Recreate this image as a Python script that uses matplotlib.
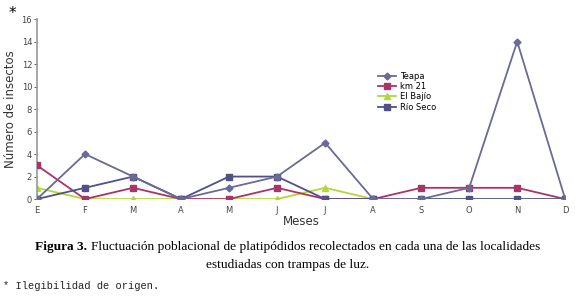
import matplotlib.pyplot as plt
import numpy as np

meses = ['E', 'F', 'M', 'A', 'M', 'J', 'J', 'A', 'S', 'O', 'N', 'D']
teapa = [0, 4, 2, 0, 1, 2, 5, 0, 0, 1, 14, 0]
km21 = [3, 0, 1, 0, 0, 1, 0, 0, 1, 1, 1, 0]
el_bajio = [1, 0, 0, 0, 0, 0, 1, 0, 0, 0, 0, 0]
rio_seco = [0, 1, 2, 0, 2, 2, 0, 0, 0, 0, 0, 0]

fig = plt.figure(figsize=(5.75, 2.98), dpi=100)
ax = fig.add_axes([0.0643, 0.332, 0.9187, 0.604])
x = np.arange(len(meses))

ax.plot(x, el_bajio, color='#b4d63c', marker='^', ms=4.5, lw=1.3, label='El Bajío', zorder=2)
ax.plot(x, km21, color='#a83468', marker='s', ms=5, lw=1.3, label='km 21', zorder=3)
ax.plot(x, rio_seco, color='#50508a', marker='s', ms=4.5, lw=1.3, label='Río Seco', zorder=4)
ax.plot(x, teapa, color='#6a6a96', marker='D', ms=3.5, lw=1.3, label='Teapa', zorder=5)

ax.set_xlim(0, 11)
ax.set_ylim(0, 16)
ax.set_yticks(range(0, 17, 2))
ax.set_xticks(x)
ax.set_xticklabels(meses)
ax.tick_params(axis='both', labelsize=6, colors='#444444', length=2, width=0.6, pad=1.5)
ax.tick_params(axis='x', length=0, pad=5)
for s in ['top', 'right', 'bottom']:
    ax.spines[s].set_visible(False)
ax.spines['left'].set_color('#999999')
ax.spines['left'].set_linewidth(1.2)
ax.set_xlabel('Meses', fontsize=8.5, color='#333333', labelpad=0)
ax.set_ylabel('Número de insectos', fontsize=8.5, color='#333333', labelpad=3)

h, l = ax.get_legend_handles_labels()
order = [3, 1, 0, 2]
ax.legend([h[i] for i in order], [l[i] for i in order], loc='upper left',
          bbox_to_anchor=(0.638, 0.73), frameon=False, fontsize=6,
          handlelength=2.2, handletextpad=0.4, labelspacing=0.15, borderpad=0)

fig.text(0.021, 0.955, '*', fontsize=11, ha='center', va='center')

# caption: bold "Figura 3." followed by normal text, centred as a whole
y1 = 1 - 247 / 298
bold = fig.text(0, y1, 'Figura 3. ', fontsize=9.6, fontweight='bold',
                family='Liberation Serif', ha='left', va='center')
rest = fig.text(0, y1,
                'Fluctuación poblacional de platipódidos recolectados en cada una de las localidades',
                fontsize=9.6, family='Liberation Serif', ha='left', va='center')
r = fig.canvas.get_renderer()
wb = bold.get_window_extent(r).width / fig.bbox.width
wr = rest.get_window_extent(r).width / fig.bbox.width
x0 = 0.5 - (wb + wr) / 2
bold.set_x(x0)
rest.set_x(x0 + wb)
fig.text(0.5, 1 - 265 / 298, 'estudiadas con trampas de luz.', fontsize=9.6,
         family='Liberation Serif', ha='center', va='center')
fig.text(0.005, 1 - 286 / 298, '* Ilegibilidad de origen.', fontsize=7.5,
         family='Liberation Mono', color='#222222', ha='left', va='center')

fig.savefig('out.png', dpi=100)
